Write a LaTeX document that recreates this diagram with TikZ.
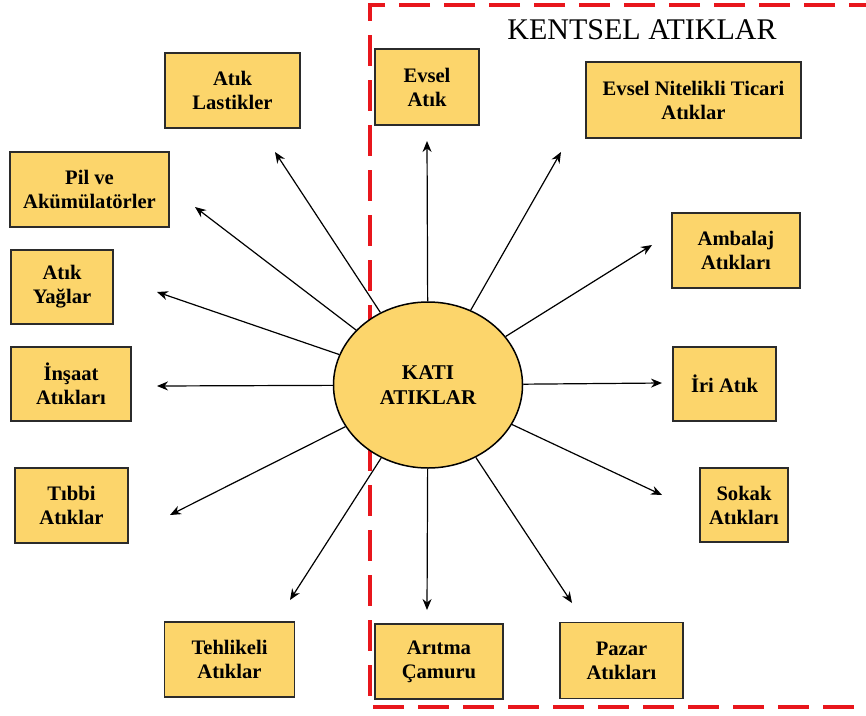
\documentclass[tikz,border=0pt]{standalone}
\usepackage{fontspec}
\setmainfont{Liberation Serif}
\usetikzlibrary{arrows.meta,shapes.geometric}
\definecolor{boxfill}{HTML}{FCD56B}
\definecolor{boxline}{HTML}{2B2B2B}
\definecolor{dashred}{HTML}{E8161C}
\tikzset{
  wbox/.style={draw=boxline, fill=boxfill, line width=1.5pt, inner sep=0pt,
    align=center, font=\fontsize{20.6}{24}\selectfont\bfseries},
  ray/.style={line width=1.2pt, -{Stealth[length=11pt,width=9pt]}},
}
\begin{document}
\begin{tikzpicture}[x=1pt,y=-1pt]
\useasboundingbox (0,0) rectangle (866,715);
\clip (0,0) rectangle (866,715);
% dashed region
\draw[dashred, line width=4pt, dash pattern=on 31pt off 14pt] (880,5) -- (370,5) -- (370,707) -- (880,707);
\node[font=\fontsize{30}{33}\selectfont, anchor=base] (title) at (642,39) {KENTSEL ATIKLAR};
% centre
\node[draw=black, fill=boxfill, line width=1.5pt, ellipse, minimum width=189pt, minimum height=166pt, inner sep=0pt,
  align=center, font=\fontsize{21}{24.5}\selectfont\bfseries] (K) at (428,385) {KATI\\ATIKLAR};
% boxes
\node[wbox, minimum width=135pt, minimum height=75pt] (lastik) at (232.5,90.5) {Atık\\Lastikler};
\node[wbox, minimum width=159pt, minimum height=75pt] (pil) at (89.5,189.5) {Pil ve\\Akümülatörler};
\node[wbox, minimum width=102pt, minimum height=74pt] (yag) at (62,287) {Atık\\Yağlar};
\node[wbox, minimum width=120pt, minimum height=74pt] (insaat) at (71,384) {İnşaat\\Atıkları};
\node[wbox, minimum width=113pt, minimum height=75pt] (tibbi) at (71.5,505.5) {Tıbbi\\Atıklar};
\node[wbox, minimum width=130pt, minimum height=75pt] (tehlikeli) at (229.5,659.5) {Tehlikeli\\Atıklar};
\node[wbox, minimum width=104pt, minimum height=76pt] (evsel) at (427,87) {Evsel\\Atık};
\node[wbox, minimum width=215pt, minimum height=76pt] (ticari) at (693.5,100) {Evsel Nitelikli Ticari\\Atıklar};
\node[wbox, minimum width=128pt, minimum height=75pt] (ambalaj) at (736,250.5) {Ambalaj\\Atıkları};
\node[wbox, minimum width=103pt, minimum height=74pt] (iri) at (724.5,384) {İri Atık};
\node[wbox, minimum width=88pt, minimum height=74pt] (sokak) at (744,505) {Sokak\\Atıkları};
\node[wbox, minimum width=128pt, minimum height=75pt] (aritma) at (439,661.5) {Arıtma\\Çamuru};
\node[wbox, minimum width=123pt, minimum height=76pt] (pazar) at (621.5,660.5) {Pazar\\Atıkları};
% arrow tips
\coordinate (tLastik) at (275,152);
\coordinate (tPil) at (195,207);
\coordinate (tYag) at (157,292);
\coordinate (tInsaat) at (157,386);
\coordinate (tTibbi) at (170,515);
\coordinate (tTehlikeli) at (290,600);
\coordinate (tEvsel) at (427,141);
\coordinate (tTicari) at (561,152);
\coordinate (tAmbalaj) at (652,245);
\coordinate (tIri) at (662,383);
\coordinate (tSokak) at (662,495);
\coordinate (tPazar) at (572,603);
\coordinate (tAritma) at (427,610);
\foreach \t in {tLastik,tPil,tYag,tInsaat,tTibbi,tTehlikeli,tEvsel,tTicari,tAmbalaj,tIri,tSokak,tPazar,tAritma}
  \draw[ray] (K) -- (\t);
\end{tikzpicture}
\end{document}
